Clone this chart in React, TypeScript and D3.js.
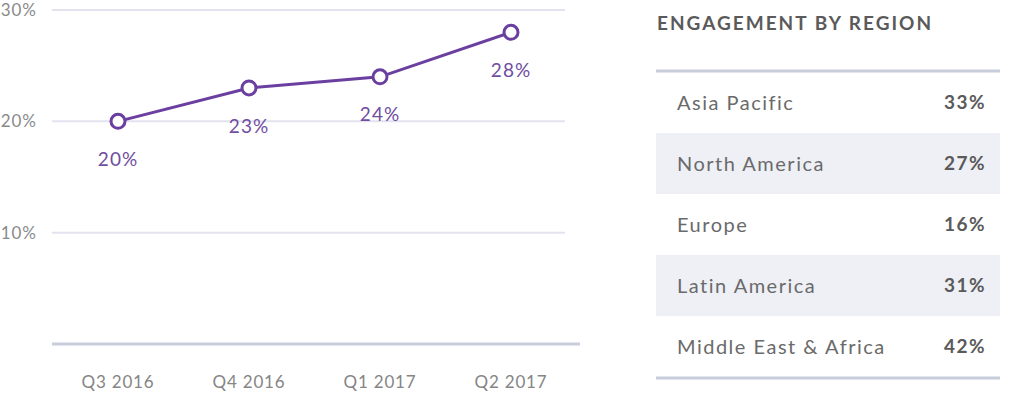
import * as d3 from "d3";

const quarters = ["Q3 2016", "Q4 2016", "Q1 2017", "Q2 2017"];
const engagement = [20, 23, 24, 28];
const yTicks = [10, 20, 30];

const regions = ["Asia Pacific", "North America", "Europe", "Latin America", "Middle East & Africa"];
const regionShare = [33, 27, 16, 31, 42];

const FONT = "Lato, 'Open Sans', sans-serif";
const PURPLE = "#6b3fa0";

export default function App() {
  const width = 1032;
  const height = 396;

  const x = d3.scalePoint<string>().domain(quarters).range([118, 511]);
  const y = d3.scaleLinear().domain([0, 30]).range([344, 10]);

  const line = d3
    .line<number>()
    .x((_, i) => x(quarters[i]) ?? 0)
    .y((d) => y(d));

  const rowY = d3.scaleBand<string>().domain(regions).range([72, 377]);

  return (
    <svg
      width={width}
      height={height}
      style={{ position: "fixed", left: 0, top: 0, background: "#fff" }}
      fontFamily={FONT}
    >
      {yTicks.map((t) => (
        <g key={t}>
          <line x1={52} x2={565} y1={y(t)} y2={y(t)} stroke="#e3e3f0" strokeWidth={2} />
          <text x={37} y={y(t)} dy="0.35em" textAnchor="end" fontSize={17} letterSpacing={1} fill="#8a8a8a">
            {t}%
          </text>
        </g>
      ))}
      <line x1={52} x2={580} y1={y(0)} y2={y(0)} stroke="#c9cddb" strokeWidth={3} />
      {quarters.map((q) => (
        <text
          key={q}
          x={x(q)}
          y={382}
          dy="0.35em"
          textAnchor="middle"
          fontSize={17}
          letterSpacing={0.8}
          fill="#858585"
        >
          {q}
        </text>
      ))}
      <path d={line(engagement) ?? ""} fill="none" stroke={PURPLE} strokeWidth={3} />
      {engagement.map((v, i) => (
        <g key={i}>
          <circle cx={x(quarters[i])} cy={y(v)} r={7} fill="#fff" stroke={PURPLE} strokeWidth={3} />
          <text
            x={x(quarters[i])}
            y={y(v) + 38}
            dy="0.35em"
            textAnchor="middle"
            fontSize={19}
            letterSpacing={1}
            fill="#6f4d9f"
          >
            {v}%
          </text>
        </g>
      ))}

      <text x={657} y={23} dy="0.35em" fontSize={19} letterSpacing={2} fontWeight={700} fill="#5a5a5a">
        ENGAGEMENT BY REGION
      </text>
      {regions.map((r, i) => {
        const top = rowY(r) ?? 0;
        const mid = top + rowY.bandwidth() / 2;
        return (
          <g key={r}>
            {i % 2 === 1 && (
              <rect x={656} y={top} width={344} height={rowY.bandwidth()} fill="#eef0f6" />
            )}
            <text x={677} y={mid} dy="0.35em" fontSize={20} letterSpacing={1.5} fill="#6a6a6a">
              {r}
            </text>
            <text
              x={986}
              y={mid}
              dy="0.35em"
              textAnchor="end"
              fontSize={19}
              letterSpacing={1.5}
              fontWeight={700}
              fill="#5a5a5a"
            >
              {regionShare[i]}%
            </text>
          </g>
        );
      })}
      <line x1={656} x2={1000} y1={71} y2={71} stroke="#c9cddb" strokeWidth={3} />
      <line x1={656} x2={1000} y1={378} y2={378} stroke="#c9cddb" strokeWidth={3} />
    </svg>
  );
}
